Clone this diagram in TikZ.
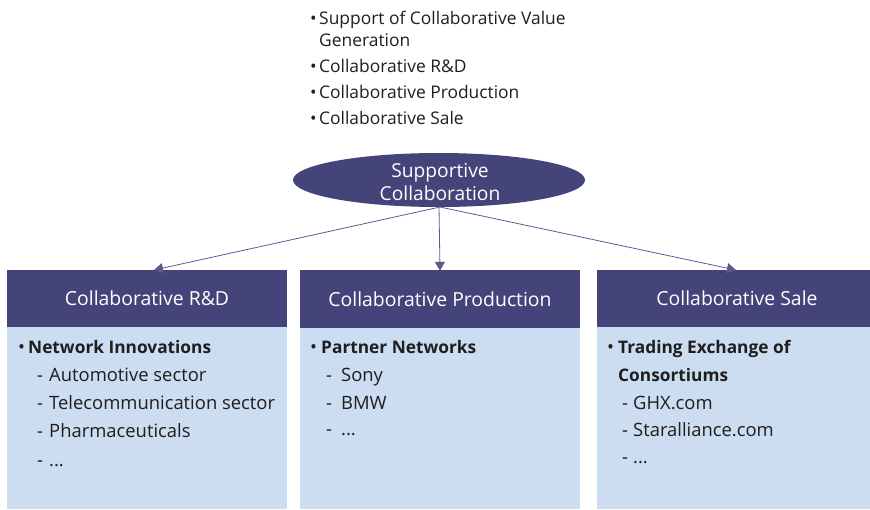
\documentclass[tikz,border=0pt]{standalone}
\usepackage{fontspec}
\setmainfont{Open Sans}
\usetikzlibrary{arrows.meta,shapes.geometric}
\definecolor{navy}{HTML}{45447A}
\definecolor{pale}{HTML}{CCDCF1}
\definecolor{ink}{HTML}{1E1E1E}
\definecolor{linec}{HTML}{5C5B8C}
\begin{document}
\begin{tikzpicture}[x=1pt,y=-1pt,
  head/.style={fill=navy,text=white,minimum width=280pt,minimum height=57pt,inner sep=0pt,font=\fontsize{19.4}{22}\selectfont},
  bodybox/.style={fill=pale,minimum width=280pt,inner sep=0pt,anchor=north west},
  txt/.style={anchor=base west,inner sep=0pt,text=ink,font=\fontsize{18.4}{22}\selectfont},
  toptxt/.style={anchor=base west,inner sep=0pt,text=ink,font=\fontsize{17.4}{22}\selectfont},
  bold/.style={font=\fontsize{17.3}{22}\selectfont\bfseries},
  conn/.style={draw=linec,line width=0.8pt,-{Triangle[length=9pt,width=10pt]},shorten >=-1pt}]
\useasboundingbox (0,0) rectangle (870,509);
% top list
\node[toptxt] (tb1) at (310,24) {•};
\node[toptxt] (t1) at (319,24) {Support of Collaborative Value};
\node[toptxt] (t1b) at (319,46) {Generation};
\node[toptxt] (tb2) at (310,72) {•};
\node[toptxt] (t2) at (319,72) {Collaborative R\&D};
\node[toptxt] (tb3) at (310,98) {•};
\node[toptxt] (t3) at (319,98) {Collaborative Production};
\node[toptxt] (tb4) at (310,124) {•};
\node[toptxt] (t4) at (319,124) {Collaborative Sale};
% ellipse
\node[ellipse,fill=navy,minimum width=292pt,minimum height=54pt,inner sep=0pt] (root) at (439,180) {};
\node[text=white,inner sep=0pt,anchor=base,font=\fontsize{19.2}{22}\selectfont] (rl1) at (440,177) {Supportive};
\node[text=white,inner sep=0pt,anchor=base,font=\fontsize{19.2}{22}\selectfont] (rl2) at (440,200) {Collaboration};
% boxes
\node[bodybox,minimum height=182pt] (b1) at (7,327) {};
\node[bodybox,minimum height=181pt] (b2) at (300,328) {};
\node[bodybox,minimum height=182pt] (b3) at (597,327) {};
\node[head] (h1) at (147,298.5) {Collaborative R\&D};
\node[head,minimum height=58pt] (h2) at (440,299) {Collaborative Production};
\node[head] (h3) at (737,298.5) {Collaborative Sale};
% connectors
\coordinate (rb) at (440,207);
\draw[conn] (rb) -- (h1.north -| 155,0);
\draw[conn] (root.south) -- (h2.north);
\draw[conn] (rb) -- (h3.north -| 735,0);
% box 1
\node[txt] (a0) at (18,353) {•};
\node[txt,bold] (a1) at (28,353) {Network Innovations};
\node[txt] (a2d) at (37,381) {-};
\node[txt] (a2) at (49,381) {Automotive sector};
\node[txt] (a3d) at (37,409) {-};
\node[txt] (a3) at (49,409) {Telecommunication sector};
\node[txt] (a4d) at (37,437) {-};
\node[txt] (a4) at (49,437) {Pharmaceuticals};
\node[txt] (a5d) at (37,466) {-};
\node[txt] (a5) at (49,466) {...};
% box 2
\node[txt] (p0) at (310,353) {•};
\node[txt,bold] (p1) at (321,353) {Partner Networks};
\node[txt] (p2d) at (326,381) {-};
\node[txt] (p2) at (341,381) {Sony};
\node[txt] (p3d) at (326,409) {-};
\node[txt] (p3) at (341,409) {BMW};
\node[txt] (p4d) at (326,435) {-};
\node[txt] (p4) at (341,435) {...};
% box 3
\node[txt] (s0) at (607,353) {•};
\node[txt,bold] (s1) at (618,353) {Trading Exchange of};
\node[txt,bold] (s1b) at (618,381) {Consortiums};
\node[txt] (s2d) at (622,409) {-};
\node[txt] (s2) at (633,409) {GHX.com};
\node[txt] (s3d) at (622,436) {-};
\node[txt] (s3) at (633,436) {Staralliance.com};
\node[txt] (s4d) at (622,463) {-};
\node[txt] (s4) at (633,463) {...};
\end{tikzpicture}
\end{document}
